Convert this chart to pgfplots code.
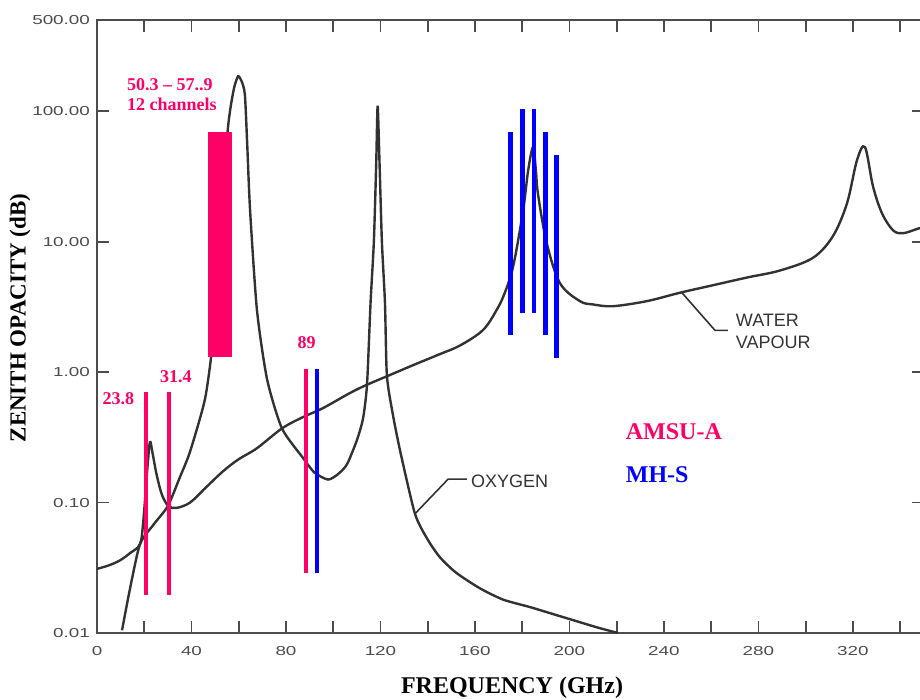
\documentclass[border=0pt]{standalone}
\usepackage{fontspec}
\setmainfont{Liberation Serif}
\newfontfamily\tickfont[FakeStretch=1.45]{Liberation Sans}
\newfontfamily\lblfont{Liberation Sans}
\usepackage{pgfplots}
\pgfplotsset{compat=1.18}
\definecolor{amsu}{RGB}{255,0,102}
\definecolor{mhs}{RGB}{0,0,255}
\definecolor{crv}{RGB}{50,50,50}
\begin{document}
\begin{tikzpicture}
\begin{axis}[name=ax, scale only axis, width=413.4pt, height=306.5pt,
  ymode=log, log basis y=10,
  xmin=0, xmax=350, ymin=0.01, ymax=500,
  xtick={0,40,...,320}, xticklabels={0,40,80,120,160,200,240,280,320},
  minor xtick={20,60,...,340},
  ytick={0.01,0.1,1,10,100,500},
  yticklabels={0.01,0.10,1.00,10.00,100.00,500.00},
  yminorticks=false,
  tick align=inside, major tick length=6pt, minor tick length=6pt,
  every tick/.style={black!70, line width=0.9pt},
  axis line style={black!70, line width=1pt},
  ticklabel style={font=\tickfont\fontsize{6.5}{7}\selectfont, text=black!70},
  xticklabel style={yshift=-3pt},
  xlabel={\bfseries FREQUENCY (GHz)},
  ylabel={\bfseries ZENITH OPACITY (dB)},
  xlabel style={font=\fontsize{12}{14}\selectfont, at={(axis description cs:0.502,-0.0897)}, anchor=center},
  ylabel style={font=\fontsize{11.5}{13}\selectfont, at={(axis description cs:-0.0931,0.514)}, anchor=center, rotate=0},
]
% Oxygen
\addplot[crv, line width=1.2pt, smooth, tension=0.4] coordinates {
 (10.6,0.0105) (14,0.022) (18.2,0.048) (24,0.068) (30.0,0.094) (35,0.155) (39.4,0.246)
 (45.7,0.62) (49,1.69) (52,8) (55,60) (56.3,100) (58,150) (59.7,185) (61.2,170)
 (62.6,134) (63.6,55) (64.8,17.4) (67.7,3.0) (72,0.88) (78.3,0.37) (87.2,0.22)
 (92,0.17) (97.8,0.15) (102,0.165) (105.8,0.196) (110,0.3) (112.6,0.44) (114.3,0.8)
 (115.8,3.4) (117.2,10) (118.2,40) (118.8,110) (119.6,40) (120.6,10) (121.9,3.4)
 (122.7,0.95) (125,0.5) (128.3,0.25) (134.6,0.082) (140,0.052) (145.2,0.038)
 (152,0.029) (162.1,0.022) (172,0.018) (183.3,0.0158) (194,0.0138) (204.4,0.0121)
 (212,0.011) (220.5,0.01)};
% Water vapour
\addplot[crv, line width=1.2pt, smooth, tension=0.55] coordinates {
 (0,0.031) (5,0.033) (9.7,0.036) (14,0.041) (18.2,0.048) (19.6,0.072) (21.3,0.18)
 (22.4,0.29) (23.5,0.24) (25.2,0.165) (27.4,0.116) (30.2,0.094) (33.7,0.091)
 (39.4,0.10) (46,0.13) (53.4,0.174) (60,0.215) (67.6,0.26) (78.3,0.37) (87,0.45)
 (95.7,0.53) (107,0.69) (114.3,0.80) (124,0.95) (133.8,1.13) (145,1.37) (153.7,1.6)
 (163.4,2.1) (169.2,3.0) (172.5,4.0) (176.2,6.5) (180.4,17.4) (182.5,35) (184.6,53)
 (185.8,35) (186.7,23) (190.4,9.7) (196,4.8) (204.4,3.5) (210,3.3) (218.4,3.2)
 (232.8,3.5) (246.8,4.06) (260,4.6) (275,5.3) (289,6.0) (303,7.5) (311.5,11)
 (317.5,19.7) (321.7,42) (325.1,53) (328.5,26.5) (332.3,16.5) (337,12.2)
 (341.2,11.6) (347.1,12.5) (350,13)};
% leader lines
\addplot[crv, line width=0.8pt] coordinates {(134.6,0.082) (148.6,0.151) (156.6,0.151)};
\addplot[crv, line width=0.8pt] coordinates {(247.6,4.06) (261.6,2.09) (267.1,2.09)};
\node[anchor=west, font=\lblfont\fontsize{9}{11}\selectfont, text=black!80] at (axis cs:155.4,0.146) {OXYGEN};
\node[anchor=west, align=left, font=\lblfont\fontsize{9}{11}\selectfont, text=black!80] at (axis cs:267.5,2.05) {WATER\\VAPOUR};
% AMSU-A band
\addplot[fill=amsu, draw=none] coordinates {(47,1.3) (57.1,1.3) (57.1,69) (47,69)} -- cycle;
% AMSU-A channels
\addplot[amsu, line width=2.4pt] coordinates {(20.7,0.0195) (20.7,0.70)};
\addplot[amsu, line width=2.4pt] coordinates {(30.5,0.0195) (30.5,0.70)};
\addplot[amsu, line width=2.4pt] coordinates {(88.5,0.029) (88.5,1.05)};
% MHS channels
\addplot[mhs, line width=2.4pt] coordinates {(93.1,0.029) (93.1,1.05)};
\addplot[mhs, line width=2.4pt] coordinates {(175.2,1.91) (175.2,69)};
\addplot[mhs, line width=2.4pt] coordinates {(180.2,2.86) (180.2,104)};
\addplot[mhs, line width=2.4pt] coordinates {(185.0,2.86) (185.0,104)};
\addplot[mhs, line width=2.4pt] coordinates {(189.8,1.91) (189.8,69)};
\addplot[mhs, line width=2.4pt] coordinates {(194.6,1.28) (194.6,46)};
% labels
\node[anchor=west, text=amsu, font=\bfseries\fontsize{9}{10}\selectfont] at (axis cs:9.8,160) {50.3 – 57..9};
\node[anchor=west, text=amsu, font=\bfseries\fontsize{9}{10}\selectfont] at (axis cs:9.8,113) {12 channels};
\node[text=amsu, font=\bfseries\fontsize{9}{10}\selectfont] at (axis cs:9.1,0.623) {23.8};
\node[text=amsu, font=\bfseries\fontsize{9}{10}\selectfont] at (axis cs:33.4,0.916) {31.4};
\node[text=amsu, font=\bfseries\fontsize{9}{10}\selectfont] at (axis cs:88.7,1.69) {89};
\node[anchor=west, text=amsu, font=\bfseries\fontsize{12}{14}\selectfont] at (axis cs:220.9,0.35) {AMSU-A};
\node[anchor=west, text=mhs, font=\bfseries\fontsize{12}{14}\selectfont] at (axis cs:220.9,0.165) {MH-S};
\end{axis}
\pgfresetboundingbox
\path[use as bounding box] (ax.south west) ++(-48.5pt,-33.5pt) rectangle ++(460pt,350pt);
\end{tikzpicture}
\end{document}
